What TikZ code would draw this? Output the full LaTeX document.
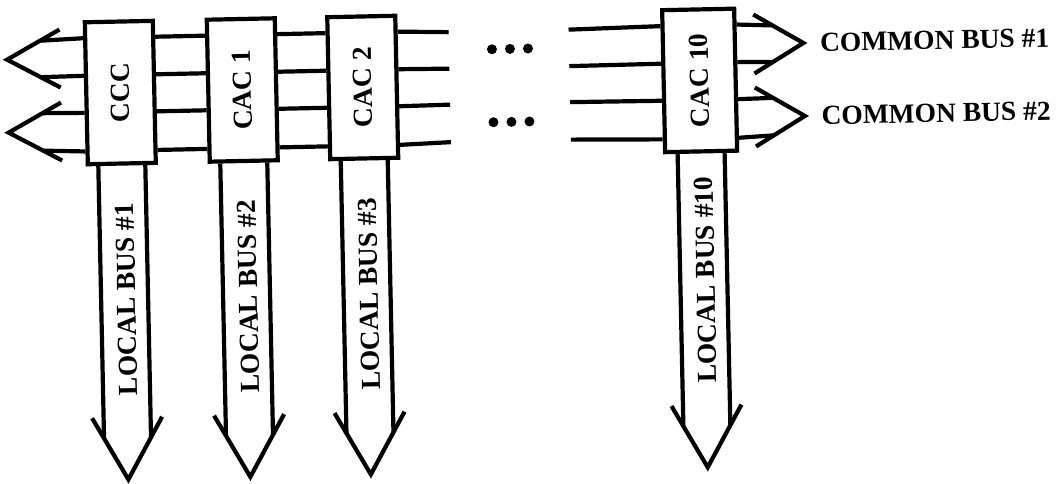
\documentclass[tikz,border=0pt]{standalone}
\usepackage{fontspec}
\setmainfont{Liberation Serif}
\usetikzlibrary{calc}

\begin{document}
\begin{tikzpicture}[x=1pt, y=-1pt,
    bus/.style={line width=4.2pt, line join=miter},
    unitbox/.style={draw, line width=4.2pt, minimum height=142pt,
      inner sep=0pt, font=\bfseries\fontsize{27.5}{32}\selectfont},
    rotlbl/.style={inner sep=0pt, font=\bfseries\fontsize{27.5}{32}\selectfont},
    buslbl/.style={inner sep=0pt, text height=18pt, text depth=0pt,
      font=\bfseries\fontsize{27.5}{32}\selectfont}]

  \useasboundingbox (0,0) rectangle (1061,484);

  % the whole drawing sits slightly tilted on the page
  \begin{scope}[rotate around={1.2:(530,242)}, transform shape]

    % controllers
    \node[unitbox, minimum width=68pt] (ccc)   at (123.5,84) {\rotatebox{90}{CCC}};
    \node[unitbox, minimum width=68pt] (cac1)  at (245.5,84) {\rotatebox{90}{CAC 1}};
    \node[unitbox, minimum width=68pt] (cac2)  at (366,84)   {\rotatebox{90}{CAC 2}};
    \node[unitbox, minimum width=72pt] (cac10) at (703,84)   {\rotatebox{90}{CAC 10}};

    % free ends of the common bus lines
    \foreach \k/\y/\xl/\xr in {1/30.5/44.4/776.4, 2/67/44.4/776.4,
                              3/103/45.3/775.5, 4/140.5/45.3/775.5} {
      \coordinate (inL\k)  at (\xl,\y);
      \coordinate (gapA\k) at (453,\y);
      \coordinate (gapB\k) at (573,\y);
      \coordinate (outR\k) at (\xr,\y);
    }

    % the four common bus lines, fraction = position along a box side
    \foreach \k/\f in {1/0.1232, 2/0.3803, 3/0.6338, 4/0.8979} {
      \draw[bus] (inL\k) -- ($(ccc.north west)!\f!(ccc.south west)$);
      \draw[bus] ($(ccc.north east)!\f!(ccc.south east)$)
              -- ($(cac1.north west)!\f!(cac1.south west)$);
      \draw[bus] ($(cac1.north east)!\f!(cac1.south east)$)
              -- ($(cac2.north west)!\f!(cac2.south west)$);
      \draw[bus] ($(cac2.north east)!\f!(cac2.south east)$) -- (gapA\k);
      \draw[bus] (gapB\k) -- ($(cac10.north west)!\f!(cac10.south west)$);
      \draw[bus] ($(cac10.north east)!\f!(cac10.south east)$) -- (outR\k);
    }

    % open arrow heads of the common buses
    \draw[bus] (64,19.75) -- (11,48.75) -- (64,77.75);
    \draw[bus] (64,92.75) -- (11,121.75) -- (64,150.75);
    \draw[bus] (758,19.25) -- (807.5,48.75) -- (758,78.25);
    \draw[bus] (758,92.25) -- (807.5,121.75) -- (758,151.25);

    % omitted controllers
    \foreach \x in {496,514,532} {
      \fill (\x,48.5) circle (5);
      \fill (\x,121.5) circle (5);
    }

    % bus names
    \node[buslbl, anchor=west] (cb1) at (824,48.75)  {COMMON BUS \#1};
    \node[buslbl, anchor=west] (cb2) at (824,121.75) {COMMON BUS \#2};

    % local buses leaving each controller downwards
    \foreach \nm/\cx/\t in {ccc/123.5/1, cac1/245.5/2, cac2/366/3, cac10/703/10} {
      \draw[bus] ($(\nm.south)!23.5pt!(\nm.south west)$) -- (\cx-23.5,429.4);
      \draw[bus] ($(\nm.south)!23.5pt!(\nm.south east)$) -- (\cx+23.5,429.4);
      \draw[bus] (\cx-35,409) -- (\cx,471) -- (\cx+35,409);
      \node[rotlbl, anchor=south] (lb\t) at (\cx+2,387)
        {\rotatebox{90}{LOCAL BUS \#\t}};
    }
  \end{scope}
\end{tikzpicture}
\end{document}
